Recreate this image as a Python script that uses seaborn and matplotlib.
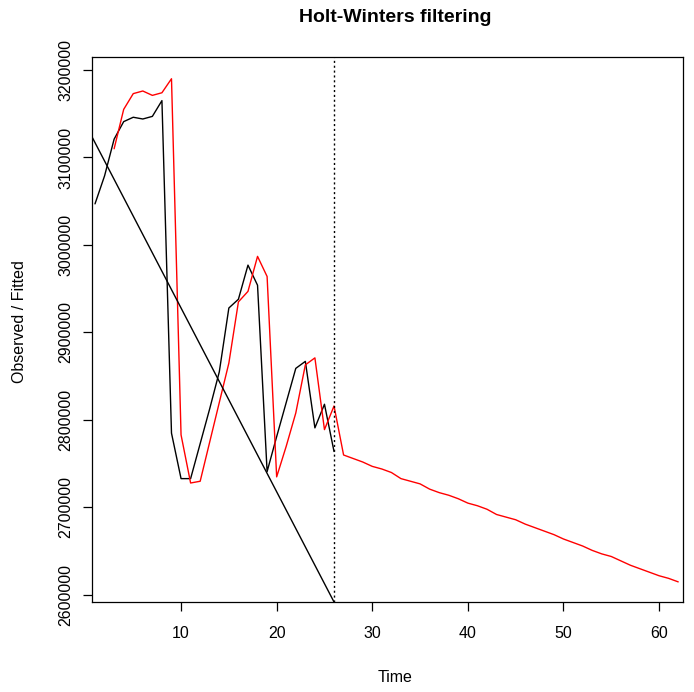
import matplotlib
matplotlib.use("Agg")
import numpy as np
import pandas as pd
import matplotlib.pyplot as plt
import seaborn as sns

# observed series (black)
time_obs = list(range(1, 27))
observed = [3047000, 3079000, 3121000, 3141000, 3146000, 3144000, 3147000, 3165000,
            2785000, 2733000, 2733000, 2773000, 2813000, 2855000, 2928000, 2938000,
            2977000, 2954000, 2741000, 2781000, 2820000, 2859000, 2867000, 2791000,
            2818000, 2764000]

# fitted values (red)
time_fit = list(range(3, 27))
fitted = [3110000, 3155000, 3173000, 3176000, 3171000, 3174000, 3190000, 2783000,
          2728000, 2730000, 2775000, 2820000, 2865000, 2935000, 2947000, 2987000,
          2964000, 2735000, 2770000, 2808000, 2863000, 2871000, 2789000, 2816000]

# predicted values (red, after the split)
time_pred = list(range(27, 63))
predicted = [2760000, 2756000, 2752000, 2747000, 2744000, 2740000, 2733000, 2730000,
             2727000, 2721000, 2717000, 2714000, 2710000, 2705000, 2702000, 2698000,
             2692000, 2689000, 2686000, 2681000, 2677000, 2673000, 2669000, 2664000,
             2660000, 2656000, 2651000, 2647000, 2644000, 2639000, 2634000, 2630000,
             2626000, 2622000, 2619000, 2615000]

trend_intercept = 3138000
trend_slope = -21000
split_time = 26

y_ticks = [2600000, 2700000, 2800000, 2900000, 3000000, 3100000, 3200000]
x_ticks = [10, 20, 30, 40, 50, 60]

obs_df = pd.DataFrame({"time": time_obs, "value": observed})
red_df = pd.DataFrame({"time": time_fit + time_pred, "value": fitted + predicted})

sns.set_style("ticks")
plt.rcParams['font.family'] = ['Liberation Sans', 'DejaVu Sans']
plt.rcParams['text.color'] = 'black'
plt.rcParams['xtick.color'] = 'black'
plt.rcParams['ytick.color'] = 'black'
plt.rcParams['axes.labelcolor'] = 'black'

fig = plt.figure(figsize=(6.94, 6.92), dpi=100)
ax = fig.add_axes([92 / 694, 90 / 692, 591 / 694, 545 / 692])

sns.lineplot(data=obs_df, x="time", y="value", color="black", linewidth=1.0, ax=ax)
sns.lineplot(data=red_df, x="time", y="value", color="red", linewidth=1.0, ax=ax)
ax.axline((0, trend_intercept), slope=trend_slope, color="black", linewidth=1.0)
ax.axvline(split_time, color="black", linestyle=(0, (1.5, 2)), linewidth=1.0)

ax.set_xlim(0.686, 62.5)
ax.set_ylim(2592000, 3214857)
ax.set_xticks(x_ticks)
ax.set_yticks(y_ticks)
ax.set_yticklabels([str(v) for v in y_ticks], rotation=90, va="center")
ax.tick_params(axis="both", labelsize=11.5, length=6.5, width=0.9,
               color="black", labelcolor="black")
ax.tick_params(axis="x", pad=11)
ax.tick_params(axis="y", pad=7)
for s in ax.spines.values():
    s.set_visible(True)
    s.set_color("black")
    s.set_linewidth(0.9)
ax.set_xlabel("")
ax.set_ylabel("")

fig.text(395 / 694, 1 - 18 / 692, "Holt-Winters filtering", ha="center", va="center",
         fontsize=14, fontweight="bold")
fig.text(395 / 694, 1 - 678 / 692, "Time", ha="center", va="center", fontsize=11.5)
fig.text(20 / 694, 1 - 322 / 692, "Observed / Fitted", ha="center", va="center",
         rotation=90, fontsize=11.5)

fig.savefig("out.png", dpi=100)
